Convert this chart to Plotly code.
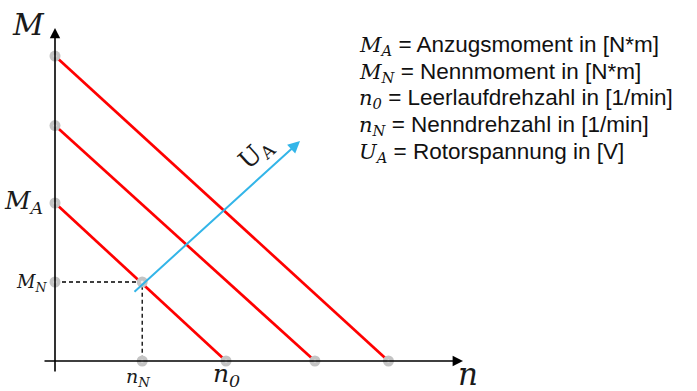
import plotly.graph_objects as go

# Torque / speed characteristic of a DC machine for several armature voltages
torque_intercepts = [1.0, 1.49, 1.93]     # M_A and the starting torques at higher U_A
speed_intercepts = [1.0, 1.52, 1.95]      # n_0 and the no-load speeds at higher U_A
rated_speed = 0.51                        # n_N
rated_torque = 0.5                        # M_N
voltage_arrow_x = [0.456, 1.433]          # direction of increasing U_A
voltage_arrow_y = [0.43, 1.392]
axis_x_end = 2.386
axis_y_end = 2.108

legend_math = ["M<sub>A</sub>", "M<sub>N</sub>", "n<sub>0</sub>", "n<sub>N</sub>", "U<sub>A</sub>"]
legend_text = [
    "Anzugsmoment in [N*m]",
    "Nennmoment in [N*m]",
    "Leerlaufdrehzahl in [1/min]",
    "Nenndrehzahl in [1/min]",
    "Rotorspannung in [V]",
]

W, H = 697, 391
X0, Y0 = 55, 361          # origin in pixels
SX, SY = 171, 158         # pixels per unit

SERIF = "DejaVu Serif"
SANS = "Liberation Sans"
RED = "#ff0000"
BLUE = "#33b5e8"
GREY = "#c4c4c4"

fig = go.Figure()

# characteristic lines
for m0, n0 in zip(torque_intercepts, speed_intercepts):
    fig.add_trace(go.Scatter(x=[0, n0], y=[m0, 0], mode="lines",
                             line=dict(color=RED, width=2.7), hoverinfo="skip"))

# rated operating point projections
fig.add_trace(go.Scatter(x=[0, rated_speed, rated_speed], y=[rated_torque, rated_torque, 0],
                         mode="lines", line=dict(color="black", width=1.3, dash="4px,3px"),
                         hoverinfo="skip"))

# marker dots on the axes
px = [0] * len(torque_intercepts) + [0] + list(speed_intercepts) + [rated_speed, rated_speed]
py = list(torque_intercepts) + [rated_torque] + [0] * len(speed_intercepts) + [0, rated_torque]
fig.add_trace(go.Scatter(x=px, y=py, mode="markers",
                         marker=dict(size=11, color=GREY), hoverinfo="skip"))
fig.add_trace(go.Scatter(x=px, y=py, mode="markers",
                         marker=dict(size=3, color="#ececec"), hoverinfo="skip"))

ann = []
# axes with arrow heads
ann.append(dict(x=axis_x_end, y=0, ax=-12 / SX, ay=0, xref="x", yref="y", axref="x", ayref="y",
                text="", showarrow=True, arrowhead=2, arrowsize=1.3, arrowwidth=1.6,
                arrowcolor="black"))
ann.append(dict(x=0, y=axis_y_end, ax=0, ay=-12 / SY, xref="x", yref="y", axref="x", ayref="y",
                text="", showarrow=True, arrowhead=2, arrowsize=1.3, arrowwidth=1.6,
                arrowcolor="black"))
# U_A arrow
ann.append(dict(x=voltage_arrow_x[1], y=voltage_arrow_y[1], ax=voltage_arrow_x[0],
                ay=voltage_arrow_y[0], xref="x", yref="y", axref="x", ayref="y",
                text="", showarrow=True, arrowhead=2, arrowsize=1.2, arrowwidth=2,
                arrowcolor=BLUE))

def label(text, x, y, size, xanchor="center", yanchor="middle", angle=0, italic=True):
    ann.append(dict(x=x, y=y, xref="x", yref="y", text=text, showarrow=False,
                    xanchor=xanchor, yanchor=yanchor, textangle=angle,
                    font=dict(family=SERIF, size=size, color="#1a1a1a",
                              style="italic" if italic else "normal")))

label("M", (28 - X0) / SX, (Y0 - 24) / SY, 30)
label("n", (468 - X0) / SX, (Y0 - 374) / SY, 31)
label("M<sub>A</sub>", (45 - X0) / SX, torque_intercepts[0] + 1 / SY, 25, xanchor="right")
label("M<sub>N</sub>", (49 - X0) / SX, rated_torque - 1 / SY, 18, xanchor="right")
label("n<sub>N</sub>", rated_speed - 4 / SX, -(377 - Y0) / SY, 19)
label("n<sub>0</sub>", speed_intercepts[0] + 0 / SX, -(375 - Y0) / SY, 25)
label("U<sub>A</sub>", (256 - X0) / SX, (Y0 - 154) / SY, 25, angle=-42, italic=False)

# explanation of symbols
for i, (m, t) in enumerate(zip(legend_math, legend_text)):
    yc = 45.7 + i * 26.6
    ann.append(dict(
        x=357 / W, y=1 - yc / H, xref="paper", yref="paper", xanchor="left", yanchor="middle",
        showarrow=False,
        text=f'<span style="font-family:{SERIF};font-style:italic;font-size:21px">{m}</span> = {t}',
        font=dict(family=SANS, size=22.5, color="#111111")))

fig.update_layout(
    width=W, height=H, margin=dict(l=0, r=0, t=0, b=0),
    paper_bgcolor="white", plot_bgcolor="white", showlegend=False,
    xaxis=dict(visible=False, range=[-X0 / SX, (W - X0) / SX], fixedrange=True),
    yaxis=dict(visible=False, range=[-(H - Y0) / SY, Y0 / SY], fixedrange=True),
    annotations=ann,
)

fig.write_html("out.html")
